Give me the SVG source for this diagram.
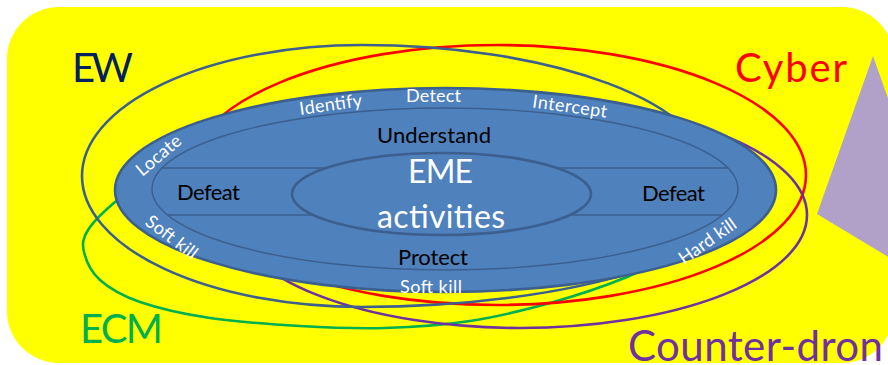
<svg xmlns="http://www.w3.org/2000/svg" width="888" height="365" viewBox="0 0 888 365">
<style>
.ring{fill:none;stroke-width:2.6}
.blue{fill:#4F81BD;stroke:#3B5F8F;stroke-width:2.6}
.line{stroke:#3B5F8F;stroke-width:1.4;fill:none}
text{font-family:Lato,"Liberation Sans",sans-serif}
.w{fill:#FFFFFF;font-size:18px;text-anchor:middle}
.k{fill:#000000;font-size:22px;text-anchor:middle}
.big{font-size:40px}
</style>
<rect x="0" y="0" width="888" height="365" fill="#FFFFFF"/>
<g id="background">
<rect x="7" y="7" width="887" height="356" rx="52" fill="#FFFF00"/>
<polygon points="873,56 900,132 900,264 817,214" fill="#B1A0C7"/>
</g>
<g id="connectors"></g>
<g id="ecm">
<path class="ring" stroke="#00B050" d="M128,196 C125.8,197 121.7,196.3 115,202 C108.3,207.7 93.2,221.7 88,230 C82.8,238.3 82,243.7 84,252 C86,260.3 90.7,271.7 100,280 C109.3,288.3 121.7,295.7 140,302 C158.3,308.3 183.3,314 210,318 C236.7,322 270.8,324.3 300,326 C329.2,327.7 356.7,328.8 385,328 C413.3,327.2 442.5,325.2 470,321 C497.5,316.8 523.8,310.3 550,303 C576.2,295.7 608.7,284.5 627,277 C645.3,269.5 654.5,261.2 660,258"/>
<text class="big" x="121.5" y="343" fill="#00B050" text-anchor="middle" textLength="83">ECM</text>
</g>
<g id="cyber">
<ellipse class="ring" stroke="#FF0000" cx="497" cy="175" rx="309" ry="130"/>
<text class="big" x="791" y="82" font-size="43" fill="#FF0000" text-anchor="middle" textLength="112">Cyber</text>
</g>
<g id="counter-drone">
<ellipse class="ring" stroke="#7030A0" cx="520" cy="215" rx="287" ry="113"/>
<text x="628" y="361" font-size="42" fill="#7030A0" textLength="255">Counter-dron</text>
</g>
<g id="ew">
<path class="ring" stroke="#3B5F8F" d="M82,176 A280,131 0 0 1 362,45 A348,131 0 0 1 710,176 M762,176 A400,131 0 0 1 362,307 A280,131 0 0 1 82,176"/>
<text class="big" x="102.5" y="82" fill="#002060" text-anchor="middle" textLength="61">EW</text>
</g>
<g id="eme">
<ellipse class="blue" cx="445.5" cy="190" rx="330.5" ry="102"/>
<ellipse class="line" stroke-width="2.6" cx="445" cy="189" rx="293" ry="81"/>
<line class="line" x1="162" y1="168" x2="728" y2="168"/>
<line class="line" x1="168" y1="215" x2="722" y2="215"/>
<ellipse class="blue" cx="441.5" cy="194" rx="149.5" ry="41"/>
<text x="440.5" y="183" font-size="32" fill="#FFFFFF" text-anchor="middle" textLength="65">EME</text>
<text x="441" y="228" font-size="32" fill="#FFFFFF" text-anchor="middle" textLength="128">activities</text>
<text class="k" x="434" y="143" textLength="114">Understand</text>
<text class="k" x="433" y="265" textLength="70">Protect</text>
<text class="k" x="208.5" y="200" textLength="63">Defeat</text>
<text class="k" x="673.5" y="200.5" textLength="63">Defeat</text>
<text class="w" x="433.5" y="102" textLength="55">Detect</text>
<text class="w" x="431" y="293" textLength="62">Soft kill</text>
<text class="w" transform="translate(331.5,110.5) rotate(-8)" textLength="63">Identify</text>
<text class="w" transform="translate(569,112.5) rotate(8)" textLength="75">Intercept</text>
<text class="w" transform="translate(162.5,160) rotate(-40)" textLength="53">Locate</text>
<text class="w" transform="translate(168,242) rotate(37)" textLength="60">Soft kill</text>
<text class="w" transform="translate(711,246) rotate(-35)" textLength="66">Hard kill</text>
</g>
</svg>
